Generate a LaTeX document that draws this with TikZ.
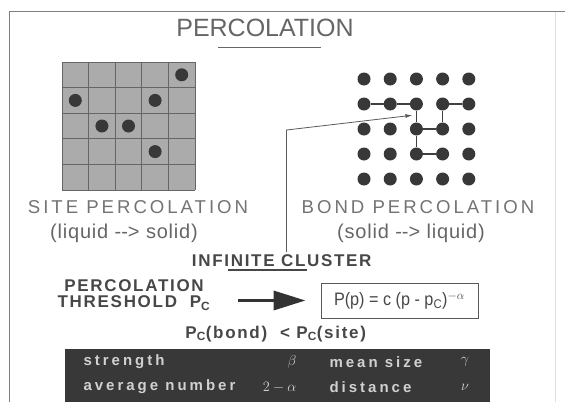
\documentclass[tikz,border=0pt]{standalone}
\usepackage{fontspec}
\setmainfont{Liberation Sans}
\newfontfamily\labelfont[LetterSpace=16]{Liberation Sans}
\newfontfamily\handfont[LetterSpace=4]{Liberation Sans}
\newfontfamily\headfont[LetterSpace=10]{Liberation Sans}
\newfontfamily\bandfont[LetterSpace=20]{Liberation Sans}
\newfontfamily\narrowfont[FakeStretch=0.9]{Liberation Sans}
\usepackage{tikz}
\usetikzlibrary{arrows.meta,calc}

\begin{document}
\begin{tikzpicture}[x=1pt,y=-1pt,
  frameline/.style={black!50,line width=1.2pt},
  gridline/.style={black!60,line width=0.9pt},
  sitedot/.style={fill=black!78},
  bdot/.style={circle,fill=black!78,minimum size=13pt,inner sep=0pt},
  bondline/.style={black!75,line width=1.4pt},
  pointer/.style={black!65,line width=0.8pt,-{Latex[length=7pt,width=4pt]}},
  biglabel/.style={text=black!55,font=\labelfont\fontsize{18.6}{20}\selectfont},
  handlabel/.style={text=black!60,font=\handfont\fontsize{20}{22}\selectfont},
  headlabel/.style={text=black!72,font=\headfont\bfseries\fontsize{17}{16}\selectfont},
  bigarrow/.style={black!80,line width=3.5pt,-{Triangle[length=32pt,width=19pt]}},
  bandtext/.style={text=black!18,font=\bandfont\bfseries\fontsize{15}{17}\selectfont,anchor=west}]
  \useasboundingbox (0,0) rectangle (565,402);
  \draw[frameline] (9.5,402) -- (9.5,11.5) -- (565,11.5);
  \draw[black!12] (555,11.5) -- (555,402);
  \node[text=black!60,font=\fontsize{25}{28}\selectfont] (title) at (265,28) {PERCOLATION};
  \draw[black!60,line width=1.8pt] (218,47.5) -- (321,47.5);

  \fill[black!33] (62,62) rectangle (195,190);
  \foreach \i in {0,...,5} {
    \draw[gridline] ({62+26.6*\i},62) -- ({62+26.6*\i},190);
    \draw[gridline] (62,{62+25.6*\i}) -- (195,{62+25.6*\i});
  }
  \foreach \c/\r in {4/0,0/1,3/1,1/2,2/2,3/3}
    \fill[sitedot] ({75.3+26.6*\c},{74.8+25.6*\r}) circle (6.5);

  \foreach \i in {0,...,4}
    \foreach \j in {0,...,4}
      \node[bdot] (b-\i-\j) at ({364+26.2*\i},{79+25*\j}) {};
  \draw[bondline] (b-0-1) -- (b-1-1) -- (b-2-1) -- (b-2-2) -- (b-2-3) -- (b-3-3);
  \draw[bondline] (b-2-2) -- (b-3-2) -- (b-3-1) -- (b-4-1);

  \node[biglabel] (sitelbl) at (138,207) {SITE PERCOLATION};
  \node[handlabel] (sitesub) at (124,233) {(liquid -\kern0pt-\kern0pt> solid)};
  \node[biglabel] (bondlbl) at (418,207) {BOND PERCOLATION};
  \node[handlabel] (bondsub) at (411,233) {(solid -\kern0pt-\kern0pt> liquid)};

  \node[headlabel] (ic) at (281.7,261) {INFINITE CLUSTER};
  \draw[black!72,line width=1.3pt] (228,270) -- (306.7,270);
  \coordinate (cfoot) at (286.5,252);
  \coordinate (cbend) at (286.5,130);
  \coordinate (ctip) at ($(b-2-1)!0.45!(b-2-2)+(-4,0)$);
  \draw[pointer] (cfoot) -- (cbend) -- (ctip);

  \node[headlabel,align=center] (thr) at (134,295) {PERCOLATION\\THRESHOLD\ \ P\textsubscript{C}};
  \node[draw=black!65,line width=0.9pt,minimum width=157pt,minimum height=35pt,
    text=black!72,font=\narrowfont\fontsize{18}{20}\selectfont] (box) at (399.5,300.5)
    {P(p) = c (p - p\textsubscript{C})\textsuperscript{$-\alpha$}};
  \draw[bigarrow,shorten <=24pt,shorten >=15pt] (thr.east |- box.west) -- (box.west);

  \node[headlabel,font=\headfont\bfseries\fontsize{17}{18}\selectfont] (rel) at (275.7,334)
    {P\textsubscript{C}(bond)\ \ < P\textsubscript{C}(site)};

  \fill[black!78] (65,349) rectangle (490,402);
  \node[bandtext] (str) at (80,362) {strength};
  \node[bandtext,anchor=center] (beta) at (292,362) {$\beta$};
  \node[bandtext] (msize) at (326,362) {mean size};
  \node[bandtext,anchor=center] (gam) at (465,362) {$\gamma$};
  \node[bandtext] (avg) at (80,387) {average number};
  \node[bandtext,anchor=east] (alf) at (300,387) {$2-\alpha$};
  \node[bandtext] (dist) at (326,387) {distance};
  \node[bandtext,anchor=center] (nu) at (465,387) {$\nu$};
\end{tikzpicture}
\end{document}
